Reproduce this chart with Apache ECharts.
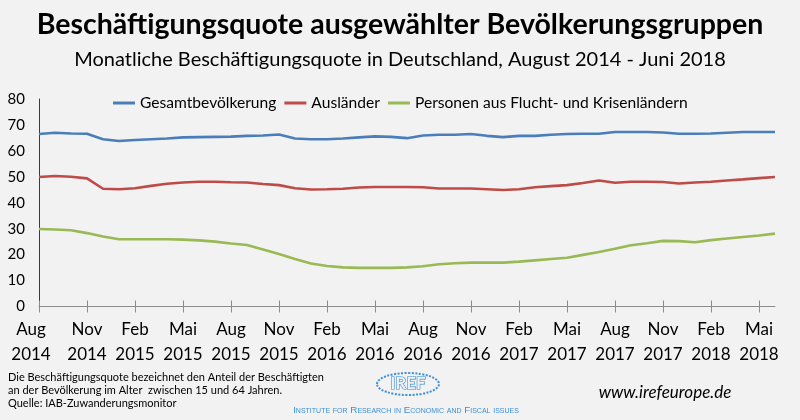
<!DOCTYPE html>
<html>
<head>
<meta charset="utf-8">
<script src="https://cdn.jsdelivr.net/npm/echarts@6/dist/echarts.min.js"></script>
<style>
html,body{margin:0;padding:0;background:#f2f2f2;}
#c{width:800px;height:420px;}
</style>
</head>
<body>
<div id="c"></div>
<script>
const months = [
 'Aug\n2014','Sep\n2014','Okt\n2014','Nov\n2014','Dez\n2014',
 'Jan\n2015','Feb\n2015','Mär\n2015','Apr\n2015','Mai\n2015','Jun\n2015','Jul\n2015','Aug\n2015','Sep\n2015','Okt\n2015','Nov\n2015','Dez\n2015',
 'Jan\n2016','Feb\n2016','Mär\n2016','Apr\n2016','Mai\n2016','Jun\n2016','Jul\n2016','Aug\n2016','Sep\n2016','Okt\n2016','Nov\n2016','Dez\n2016',
 'Jan\n2017','Feb\n2017','Mär\n2017','Apr\n2017','Mai\n2017','Jun\n2017','Jul\n2017','Aug\n2017','Sep\n2017','Okt\n2017','Nov\n2017','Dez\n2017',
 'Jan\n2018','Feb\n2018','Mär\n2018','Apr\n2018','Mai\n2018','Jun\n2018'
];
const gesamt = [66.5, 67.0, 66.7, 66.6, 64.5, 63.8, 64.2, 64.5, 64.8, 65.2, 65.3, 65.4,
  65.5, 65.8, 65.9, 66.3, 64.8, 64.5, 64.5, 64.8, 65.2, 65.6, 65.4, 64.9,
  65.9, 66.2, 66.2, 66.5, 65.8, 65.3, 65.8, 65.8, 66.2, 66.5, 66.6, 66.6,
  67.3, 67.3, 67.3, 67.1, 66.6, 66.6, 66.7, 67.0, 67.3, 67.3, 67.3];
const auslaender = [49.9, 50.3, 50.0, 49.4, 45.4, 45.2, 45.6, 46.5, 47.3, 47.8, 48.1, 48.1,
  47.9, 47.8, 47.2, 46.8, 45.6, 45.1, 45.2, 45.4, 45.9, 46.1, 46.1, 46.1,
  46.0, 45.5, 45.5, 45.5, 45.2, 44.9, 45.2, 46.0, 46.4, 46.8, 47.6, 48.6,
  47.7, 48.1, 48.1, 48.0, 47.4, 47.8, 48.1, 48.6, 49.0, 49.5, 49.9];
const flucht = [29.9, 29.7, 29.4, 28.3, 27.0, 25.9, 25.9, 25.9, 25.9, 25.8, 25.5, 25.0,
  24.3, 23.7, 22.0, 20.2, 18.3, 16.6, 15.6, 15.1, 14.9, 14.9, 14.9, 15.1,
  15.5, 16.3, 16.7, 16.9, 16.9, 16.9, 17.3, 17.8, 18.3, 18.8, 19.9, 21.0,
  22.3, 23.6, 24.4, 25.3, 25.2, 24.8, 25.6, 26.2, 26.8, 27.4, 28.1];
const seriesNames = ['Gesamtbevölkerung', 'Ausländer', 'Personen aus Flucht- und Krisenländern'];
const yTicks = {min: 0, max: 80, interval: 10};

const FONT = 'Lato, "Liberation Sans", sans-serif';
const colors = ['#4a7ebb', '#be4b48', '#98b954'];

const chart = echarts.init(document.getElementById('c'), null, {renderer: 'canvas'});
const mkSeries = (name, data, i) => ({
  name, type: 'line', data, xAxisIndex: 0, showSymbol: false, symbol: 'none',
  lineStyle: {color: colors[i], width: 2.6}, itemStyle: {color: colors[i]},
  smooth: false, animation: false
});
chart.setOption({
  backgroundColor: '#f2f2f2',
  animation: false,
  title: [
    {text: 'Beschäftigungsquote ausgewählter Bevölkerungsgruppen', left: 'center', top: 5,
     textStyle: {fontFamily: FONT, fontWeight: 'bold', fontSize: 28.5, color: '#000'}},
    {text: 'Monatliche Beschäftigungsquote in Deutschland, August 2014 - Juni 2018', left: 'center', top: 45,
     textStyle: {fontFamily: FONT, fontWeight: 'normal', fontSize: 20, color: '#000'}}
  ],
  legend: {
    data: seriesNames, left: 108, top: 90, itemWidth: 22, itemHeight: 3, itemGap: 8,
    icon: 'rect',
    textStyle: {fontFamily: FONT, fontSize: 15.6, color: '#000'}
  },
  grid: {left: 39, right: 25, top: 99, bottom: 113.5, containLabel: false},
  xAxis: [{
    type: 'category', data: months, boundaryGap: false, position: 'bottom',
    axisLine: {lineStyle: {color: '#8c8c8c', width: 1}},
    axisTick: {interval: 2, length: 6, lineStyle: {color: '#8c8c8c'}},
    axisLabel: {interval: 2, margin: 11, fontFamily: FONT, fontSize: 17, color: '#000', lineHeight: 25,
      showMinLabel: true, hideOverlap: false,
      formatter: (v, i) => i === 0 ? '{f|' + v + '}' : v,
      rich: {f: {fontFamily: FONT, fontSize: 17, color: '#000', lineHeight: 25, padding: [0, 16, 0, 0]}}}
  }, {
    type: 'category', data: months, boundaryGap: false, position: 'bottom', gridIndex: 0,
    axisLine: {show: false},
    axisTick: {interval: 2, length: 6, inside: true, lineStyle: {color: '#8c8c8c'}},
    axisLabel: {show: false}
  }],
  yAxis: {
    type: 'value', min: yTicks.min, max: yTicks.max, interval: yTicks.interval,
    axisLine: {show: true, lineStyle: {color: '#3a3a3a', width: 1}},
    axisTick: {show: false}, splitLine: {show: false},
    axisLabel: {margin: 14, fontFamily: FONT, fontSize: 15, color: '#000'}
  },
  series: [mkSeries(seriesNames[0], gesamt, 0), mkSeries(seriesNames[1], auslaender, 1), mkSeries(seriesNames[2], flucht, 2)],
  graphic: [
    {type: 'text', left: 8, top: 371, style: {
      text: 'Die Beschäftigungsquote bezeichnet den Anteil der Beschäftigten\nan der Bevölkerung im Alter  zwischen 15 und 64 Jahren.\nQuelle: IAB-Zuwanderungsmonitor',
      font: '11px ' + FONT, fill: '#000', lineHeight: 13}},
    {type: 'ellipse', shape: {cx: 408, cy: 384, rx: 31, ry: 11},
      style: {fill: 'none', stroke: '#3d8fd6', lineWidth: 2, lineDash: [2, 1.5]}},
    {type: 'text', x: 408, y: 384, style: {text: 'IREF', font: 'bold 17px ' + FONT, fill: '#f2f2f2',
      stroke: '#2f86d1', lineWidth: 1.2, align: 'center', verticalAlign: 'middle'}},
    {type: 'text', x: 406, y: 410, style: {text: 'Institute for Research in Economic and Fiscal issues',
      font: 'small-caps 9.8px "Liberation Sans", sans-serif', fill: '#3d8fd6', align: 'center', verticalAlign: 'middle'}},
    {type: 'text', x: 665, y: 393, style: {text: 'www.irefeurope.de', font: 'italic 17px ' + FONT, fill: '#000',
      align: 'center', verticalAlign: 'middle'}}
  ]
});
</script>
</body>
</html>
